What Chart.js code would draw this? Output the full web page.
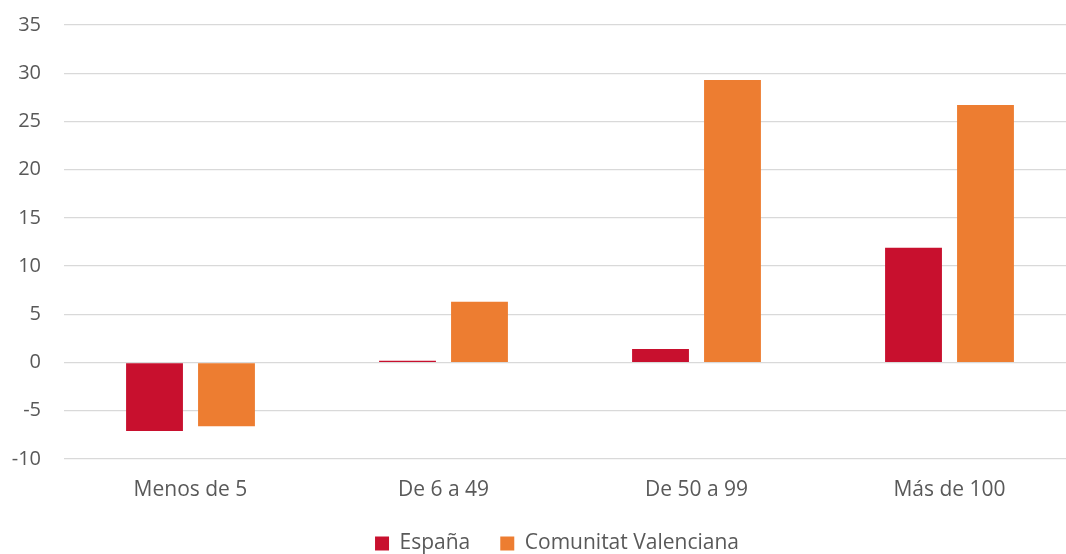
<!DOCTYPE html>
<html>
<head>
<meta charset="utf-8">
<script src="https://cdn.jsdelivr.net/npm/chart.js@4"></script>
<style>
  html, body { margin: 0; padding: 0; background: #fff; overflow: hidden; }
  /* el original está recortado por la derecha y por abajo */
  #wrap { width: 1076px; height: 564px; }
</style>
</head>
<body>
<div id="wrap"><canvas id="chart"></canvas></div>
<script>
const categorias = ['Menos de 5', 'De 6 a 49', 'De 50 a 99', 'Más de 100'];
const espana = [-7.1, 0.2, 1.4, 11.9];
const valenciana = [-6.6, 6.3, 29.3, 26.7];
const yMin = -10;
const yMax = 35;
const yPaso = 5;

const colorTexto = '#595959';
const fuenteEjes = { family: 'Open Sans', size: 20 };
const fuenteTexto = { family: 'Open Sans', size: 21 };

// mueve la leyenda un poco a la izquierda, como en el original
const moverLeyenda = {
  id: 'moverLeyenda',
  afterLayout(chart) {
    chart.legend.left -= 13;
    chart.legend.right -= 13;
  }
};

const ctx = document.getElementById('chart').getContext('2d');
new Chart(ctx, {
  type: 'bar',
  data: {
    labels: categorias,
    datasets: [
      { label: 'España', data: espana, backgroundColor: '#C8102E' },
      { label: 'Comunitat Valenciana', data: valenciana, backgroundColor: '#ED7D31' }
    ]
  },
  options: {
    responsive: true,
    maintainAspectRatio: false,
    animation: false,
    categoryPercentage: 0.569,
    barPercentage: 0.79,
    layout: { padding: { top: 25, right: 0, left: 0, bottom: 0 } },
    plugins: {
      tooltip: { enabled: false },
      legend: {
        position: 'bottom',
        fullSize: false,
        labels: {
          font: fuenteTexto,
          color: colorTexto,
          boxWidth: 14,
          boxHeight: 14,
          padding: 30
        }
      }
    },
    scales: {
      x: {
        grid: { display: false, drawTicks: false },
        border: { display: false },
        ticks: { font: fuenteTexto, color: colorTexto, padding: 18 },
        afterFit: function (scale) { scale.height = 44; }
      },
      y: {
        min: yMin,
        max: yMax,
        grid: { color: '#d9d9d9', lineWidth: 1.3, drawTicks: true, tickLength: 20, tickColor: 'rgba(0,0,0,0)' },
        border: { display: false },
        ticks: { stepSize: yPaso, font: fuenteEjes, color: colorTexto, padding: 3 },
        afterFit: function (scale) { scale.width = 64; }
      }
    }
  },
  plugins: [moverLeyenda]
});
</script>
</body>
</html>
